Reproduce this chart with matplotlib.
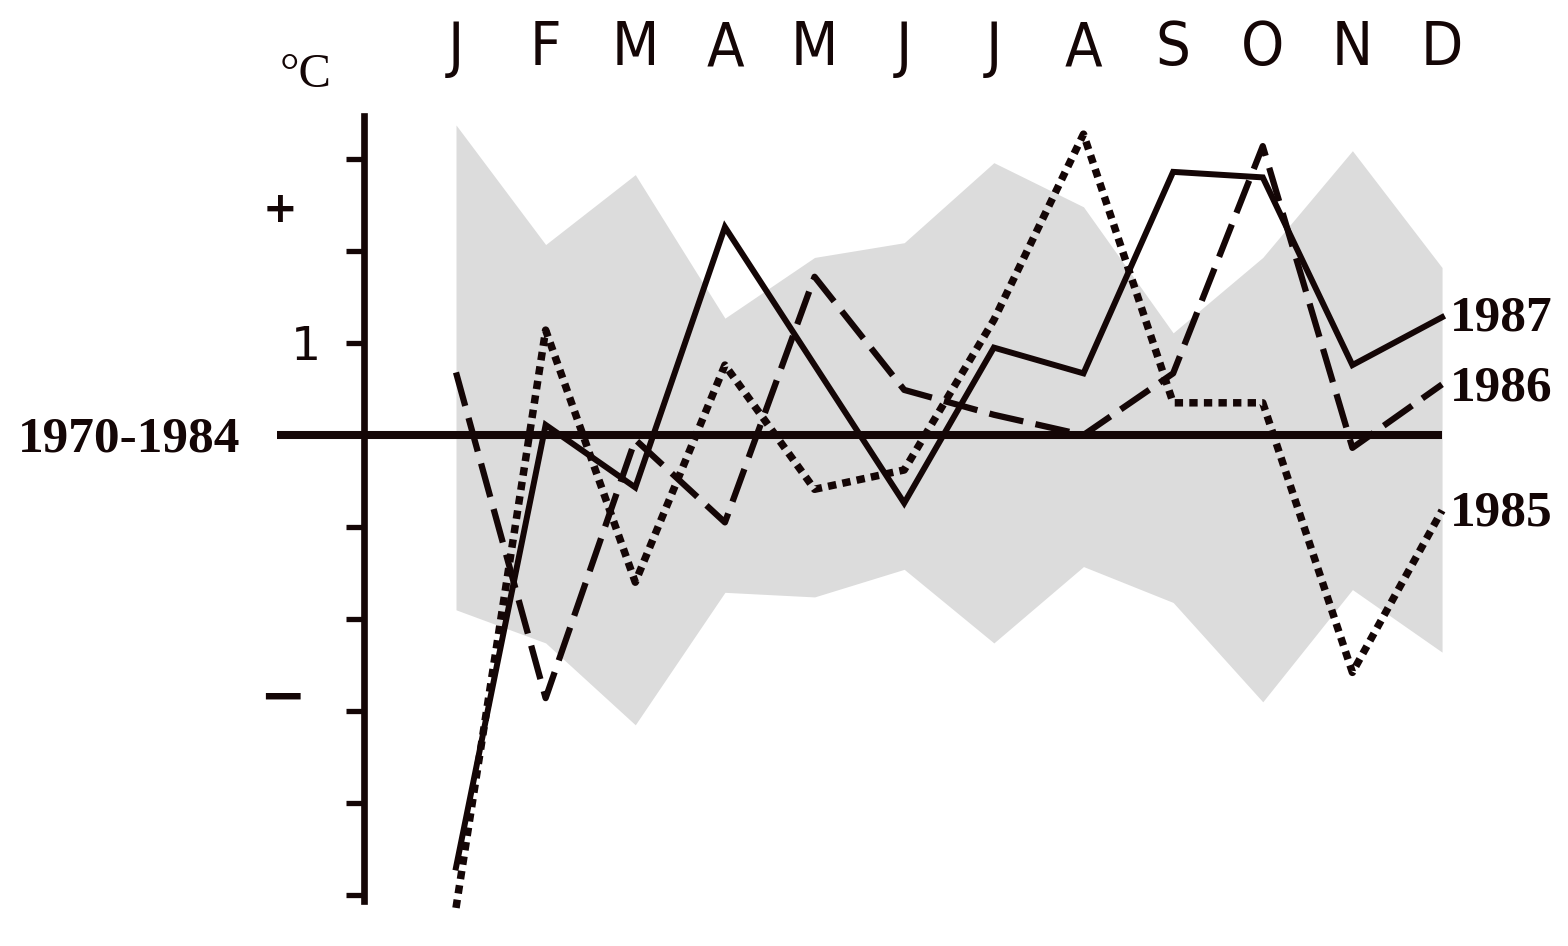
import matplotlib
matplotlib.use('Agg')
import matplotlib.pyplot as plt

# monthly temperature deviation from the 1970-1984 mean (deg C)
months = ['J', 'F', 'M', 'A', 'M', 'J', 'J', 'A', 'S', 'O', 'N', 'D']
env_upper = [3.37, 2.07, 2.83, 1.27, 1.93, 2.09, 2.96, 2.48, 1.11, 1.93, 3.09, 1.82]
env_lower = [-1.90, -2.26, -3.15, -1.71, -1.76, -1.46, -2.26, -1.43, -1.82, -2.90, -1.68, -2.36]
t1987 = [-4.70, 0.11, -0.57, 2.26, 0.76, -0.74, 0.95, 0.67, 2.86, 2.80, 0.76, 1.28]
t1986 = [0.68, -2.86, -0.05, -0.95, 1.72, 0.49, 0.22, 0.00, 0.67, 3.14, -0.14, 0.55]
t1985 = [-5.14, 1.14, -1.60, 0.76, -0.59, -0.38, 1.25, 3.27, 0.35, 0.35, -2.58, -0.82]
ytick_vals = [-5, -4, -3, -2, -1, 1, 2, 3]
ytick_labels = ['', '', '', '', '', '1', '', '']

ink = '#140606'
serif = ['Liberation Serif', 'DejaVu Serif']

plt.rcParams['lines.scale_dashes'] = False

fig = plt.figure(figsize=(15.68, 9.46), dpi=100)
ax = fig.add_axes([0, 0, 1, 1])
ax.set_xlim(-5.087, 12.405)
ax.set_ylim(-5.554, 4.728)

x = list(range(len(months)))

# 1970-1984 range band
ax.fill_between(x, env_lower, env_upper, color='#dcdcdc', lw=0, zorder=1)

# the three years
ax.plot(x, t1987, color=ink, lw=4.3, solid_joinstyle='miter', zorder=3)
ax.plot(x, t1986, color=ink, lw=4.5, dashes=(25, 9), dash_capstyle='butt', zorder=3)
ax.plot(x, t1985, color=ink, lw=5.4, dashes=(6, 4.5), dash_capstyle='butt', zorder=3)

# reference mean line
ax.hlines(0, -2, 11, color=ink, lw=5.8, zorder=4)

# axis
for s in ['top', 'right', 'bottom']:
    ax.spines[s].set_visible(False)
ax.spines['left'].set_position(('data', -1.03))
ax.spines['left'].set_bounds(-5.07, 3.47)
ax.spines['left'].set_linewidth(4.8)
ax.spines['left'].set_color(ink)
ax.set_xticks([])
ax.set_yticks(ytick_vals)
ax.set_yticklabels(ytick_labels)
ax.tick_params(axis='y', length=13, width=3.8, color=ink, pad=18, labelsize=34,
               labelcolor=ink)

# month labels along the top
for i, m in enumerate(months):
    ax.text(i, 4.02, m, ha='center', va='baseline', fontsize=44,
            family='DejaVu Sans', fontstretch='condensed', color=ink)

ax.text(-1.68, 3.78, '°C', ha='center', va='baseline', fontsize=35, family=serif, color=ink)
ax.text(-1.96, 2.45, '+', ha='center', va='center', fontsize=30, fontweight='bold', color=ink)
ax.text(-1.94, -2.86, '−', ha='center', va='center', fontsize=40, fontweight='heavy', color=ink)

ax.text(-2.41, -0.18, '1970-1984', ha='right', va='baseline', fontsize=37, family=serif,
        fontweight='bold', color=ink)
ax.text(11.09, 1.14, '1987', ha='left', va='baseline', fontsize=37, family=serif,
        fontweight='bold', color=ink)
ax.text(11.09, 0.38, '1986', ha='left', va='baseline', fontsize=37, family=serif,
        fontweight='bold', color=ink)
ax.text(11.09, -0.98, '1985', ha='left', va='baseline', fontsize=37, family=serif,
        fontweight='bold', color=ink)

fig.savefig('out.png', dpi=100)
